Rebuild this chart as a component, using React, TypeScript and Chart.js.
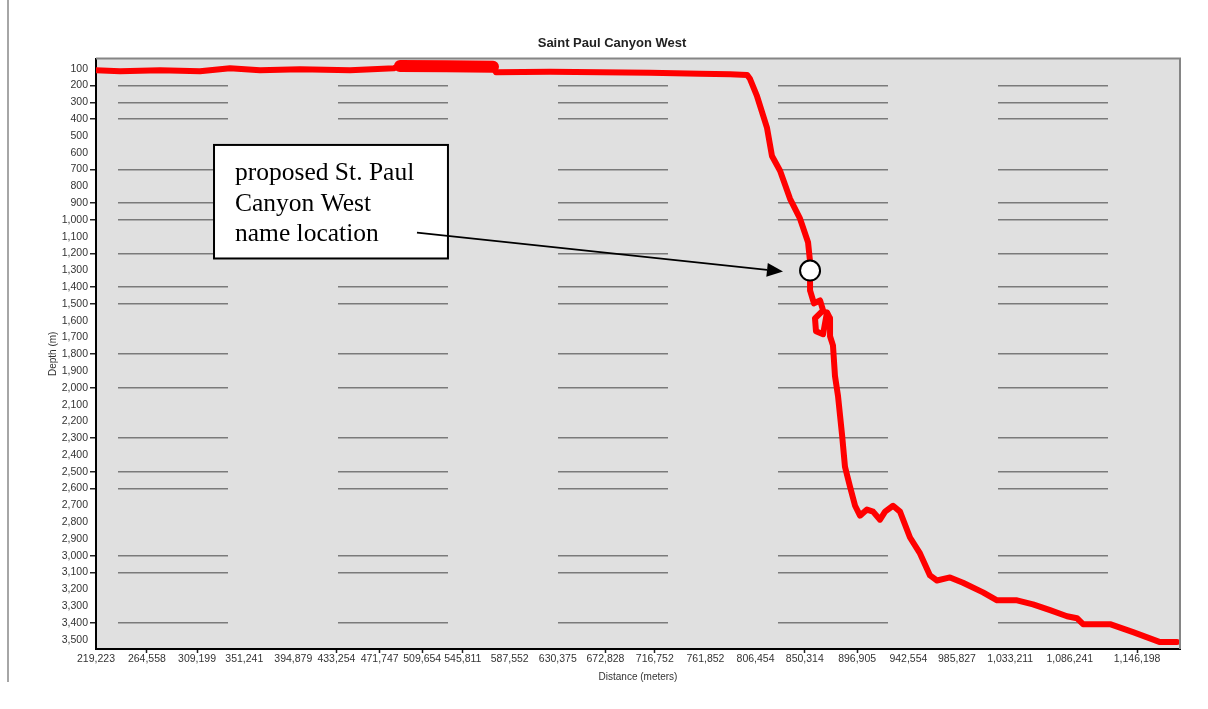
import React, { useEffect, useRef } from "react";
import { Chart, registerables } from "chart.js";

Chart.register(...registerables);

const chartTitle = "Saint Paul Canyon West";
const xAxisTitle = "Distance (meters)";
const yAxisTitle = "Depth (m)";

const xTickValues = [
  219223, 264558, 309199, 351241, 394879, 433254, 471747, 509654, 545811, 587552, 630375,
  672828, 716752, 761852, 806454, 850314, 896905, 942554, 985827, 1033211, 1086241, 1146198,
];
const xTickMarkIndexes = [1, 2, 5, 6, 7, 8, 11, 12, 15, 16, 21];

const yTickValues = [
  100, 200, 300, 400, 500, 600, 700, 800, 900, 1000, 1100, 1200, 1300, 1400, 1500, 1600, 1700,
  1800, 1900, 2000, 2100, 2200, 2300, 2400, 2500, 2600, 2700, 2800, 2900, 3000, 3100, 3200, 3300,
  3400, 3500,
];
const yGridValues = [200, 300, 400, 700, 900, 1000, 1200, 1400, 1500, 1800, 2000, 2300, 2500, 2600, 3000, 3100, 3400];

const profileX = [
  219223, 240600, 276200, 311800, 338500, 365200, 400900, 445400, 484600, 489900,
  531000, 572700, 575400, 623500, 668000, 712500, 757000, 784000, 798900, 801500,
  807800, 816700, 821100, 828300, 837200, 846100, 853200, 855000, 855000, 858500,
  863900, 866600, 859400, 860300, 866600, 870100, 872800, 872800, 875400, 877200,
  879900, 883500, 886100, 890600, 895100, 899500, 905700, 911100, 917300, 921800,
  928900, 935100, 944000, 952900, 961800, 968000, 979600, 991200, 1009000, 1021500,
  1039300, 1053500, 1068700, 1083800, 1092700, 1098100, 1122100, 1142600, 1166600, 1181700,
];
const profileDepth = [
  109, 115, 109, 115, 97, 109, 103, 109, 97, 84,
  86, 88, 121, 118, 121, 124, 130, 133, 137, 160,
  264, 453, 620, 708, 875, 993, 1133, 1248, 1420, 1497,
  1480, 1539, 1586, 1663, 1681, 1551, 1586, 1693, 1747, 1930,
  2049, 2280, 2470, 2589, 2702, 2761, 2725, 2737, 2785, 2737,
  2702, 2737, 2891, 2986, 3117, 3147, 3129, 3161, 3218, 3265,
  3265, 3289, 3324, 3360, 3372, 3407, 3407, 3455, 3514, 3514,
];
// stretch of the profile drawn as a wider, noisier band
const bandFromX = 489900;
const bandToX = 572700;

const noteLines = ["proposed St. Paul", "Canyon West", "name location"];
const notePointX = [855000];
const notePointDepth = [1302];
const noteBox = { left: 324300, right: 532600, top: 554, bottom: 1230 };
const noteArrow = { fromX: 505000, fromY: 1076, toX: 830900, toY: 1308 };

const plotFrame = {
  id: "plotFrame",
  beforeDraw(chart: any) {
    const { ctx, chartArea: a } = chart;
    ctx.save();
    ctx.fillStyle = "#e0e0e0";
    ctx.fillRect(a.left, a.top, a.right - a.left, a.bottom - a.top);
    ctx.restore();
  },
  afterDatasetsDraw(chart: any) {
    const { ctx, chartArea: a } = chart;
    ctx.save();
    ctx.strokeStyle = "#858585";
    ctx.lineWidth = 2;
    ctx.beginPath();
    ctx.moveTo(a.left, a.top);
    ctx.lineTo(a.right, a.top);
    ctx.lineTo(a.right, a.bottom);
    ctx.stroke();
    ctx.restore();
  },
};

const noteLayer = {
  id: "noteLayer",
  afterDraw(chart: any) {
    const { ctx } = chart;
    const xs = chart.scales.x;
    const ys = chart.scales.y;
    const l = xs.getPixelForValue(noteBox.left);
    const r = xs.getPixelForValue(noteBox.right);
    const t = ys.getPixelForValue(noteBox.top);
    const b = ys.getPixelForValue(noteBox.bottom);
    ctx.save();
    ctx.fillStyle = "#ffffff";
    ctx.fillRect(l, t, r - l, b - t);
    ctx.strokeStyle = "#000000";
    ctx.lineWidth = 2;
    ctx.strokeRect(l, t, r - l, b - t);
    ctx.fillStyle = "#000000";
    ctx.font = "25.5px 'Liberation Serif', 'Times New Roman', serif";
    ctx.textAlign = "left";
    ctx.textBaseline = "alphabetic";
    const baseOffsets = [35, 66, 96];
    noteLines.forEach((line, i) => ctx.fillText(line, l + 21, t + baseOffsets[i]));

    const x1 = xs.getPixelForValue(noteArrow.fromX);
    const y1 = ys.getPixelForValue(noteArrow.fromY);
    const x2 = xs.getPixelForValue(noteArrow.toX);
    const y2 = ys.getPixelForValue(noteArrow.toY);
    const ang = Math.atan2(y2 - y1, x2 - x1);
    const headLen = 16;
    const headHalf = 7;
    const bx = x2 - headLen * Math.cos(ang);
    const by = y2 - headLen * Math.sin(ang);
    ctx.lineWidth = 1.6;
    ctx.beginPath();
    ctx.moveTo(x1, y1);
    ctx.lineTo(bx, by);
    ctx.stroke();
    ctx.beginPath();
    ctx.moveTo(x2, y2);
    ctx.lineTo(bx + headHalf * Math.sin(ang), by - headHalf * Math.cos(ang));
    ctx.lineTo(bx - headHalf * Math.sin(ang), by + headHalf * Math.cos(ang));
    ctx.closePath();
    ctx.fill();
    ctx.restore();
  },
};

export default function App() {
  const ref = useRef<HTMLCanvasElement | null>(null);

  useEffect(() => {
    if (!ref.current) return;
    const tickFont = { family: "'Liberation Sans', Arial, sans-serif", size: 10.5 };
    const chart = new Chart(ref.current, {
      type: "line",
      data: {
        datasets: [
          {
            type: "scatter",
            label: "proposed name location",
            data: notePointX.map((x, i) => ({ x, y: notePointDepth[i] })),
            pointRadius: 10,
            pointBackgroundColor: "#ffffff",
            pointBorderColor: "#000000",
            pointBorderWidth: 2,
            order: 0,
          } as any,
          {
            label: chartTitle,
            data: profileX.map((x, i) => ({ x, y: profileDepth[i] })),
            borderColor: "#ff0000",
            borderWidth: 6,
            pointRadius: 0,
            tension: 0,
            borderJoinStyle: "round",
            borderCapStyle: "round",
            fill: false,
            order: 1,
            segment: {
              borderWidth: (ctx: any) =>
                ctx.p0.parsed.x >= bandFromX && ctx.p1.parsed.x <= bandToX ? 12 : 6,
            },
          },
        ],
      },
      options: {
        responsive: false,
        animation: false,
        devicePixelRatio: 1,
        layout: { padding: { left: 44, right: 28, top: 0, bottom: 11 } },
        plugins: {
          legend: { display: false },
          tooltip: { enabled: false },
          title: {
            display: true,
            text: chartTitle,
            color: "#222222",
            font: { family: "'Liberation Sans', Arial, sans-serif", size: 13, weight: "bold" },
            padding: { top: 36, bottom: 7 },
          },
        },
        scales: {
          x: {
            type: "linear",
            min: 219223,
            max: 1184400,
            afterBuildTicks: (scale: any) => {
              scale.ticks = xTickValues.map((v) => ({ value: v }));
            },
            afterFit: (scale: any) => {
              scale.height = 40;
            },
            ticks: {
              autoSkip: false,
              maxRotation: 0,
              padding: 0,
              color: "#333333",
              font: tickFont,
              callback: (v: any) => Number(v).toLocaleString("en-US"),
            },
            grid: {
              drawOnChartArea: false,
              drawTicks: true,
              tickLength: 4,
              tickWidth: 1.5,
              tickColor: (ctx: any) => (xTickMarkIndexes.includes(ctx.index) ? "#222222" : "rgba(0,0,0,0)"),
            },
            border: { display: true, color: "#000000", width: 2 },
            title: {
              display: true,
              text: xAxisTitle,
              color: "#333333",
              font: { family: "'Liberation Sans', Arial, sans-serif", size: 10 },
              padding: { top: 0, bottom: 6 },
            },
          },
          y: {
            type: "linear",
            reverse: true,
            min: 40,
            max: 3555,
            afterBuildTicks: (scale: any) => {
              scale.ticks = yTickValues.map((v) => ({ value: v }));
            },
            afterFit: (scale: any) => {
              scale.width = 52;
            },
            ticks: {
              autoSkip: false,
              padding: 2,
              color: "#333333",
              font: tickFont,
              callback: (v: any) => Number(v).toLocaleString("en-US"),
            },
            grid: {
              color: (ctx: any) => (ctx.tick && yGridValues.includes(ctx.tick.value) ? "#7a7a7a" : "rgba(0,0,0,0)"),
              lineWidth: 1.5,
              drawTicks: true,
              tickLength: 6,
              tickWidth: 1.5,
              tickColor: (ctx: any) => (ctx.tick && yGridValues.includes(ctx.tick.value) ? "#222222" : "rgba(0,0,0,0)"),
            },
            border: { display: true, color: "#000000", width: 2, dash: [110, 110], dashOffset: 199 },
            title: {
              display: true,
              text: yAxisTitle,
              color: "#333333",
              font: { family: "'Liberation Sans', Arial, sans-serif", size: 10 },
              padding: { top: 3, bottom: 0 },
            },
          },
        },
      },
      plugins: [plotFrame, noteLayer],
    } as any);
    return () => chart.destroy();
  }, []);

  return (
    <div style={{ position: "absolute", left: 0, top: 0, width: 1208, height: 709, background: "#ffffff" }}>
      <div style={{ position: "absolute", left: 7, top: 0, width: 2, height: 682, background: "#a6a6a6" }} />
      <canvas ref={ref} width={1208} height={700} style={{ position: "absolute", left: 0, top: 0 }} />
    </div>
  );
}
